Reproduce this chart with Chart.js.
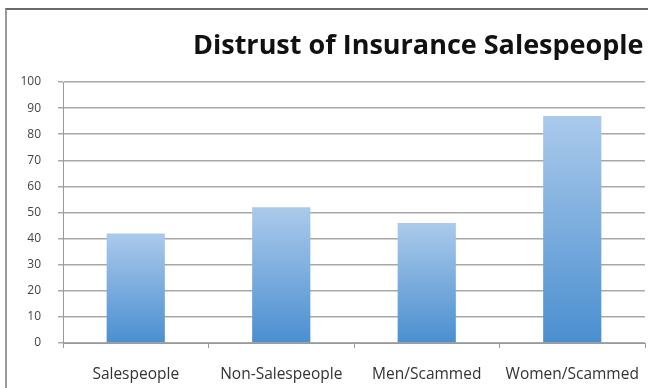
<!DOCTYPE html>
<html>
<head>
<meta charset="utf-8">
<script src="https://cdn.jsdelivr.net/npm/chart.js@4.4.1/dist/chart.umd.min.js"></script>
<style>
  html, body { margin: 0; padding: 0; background: #ffffff; overflow: hidden; }
  body { width: 648px; height: 388px; position: relative; }
  #frame {
    position: absolute; left: 5px; top: 8px; width: 700px; height: 420px;
    border-top: 2px solid #6a6a6a; border-left: 2px solid #9a9a9a;
    box-sizing: border-box;
  }
  #wrap { position: absolute; left: 0; top: 0; width: 648px; height: 388px; }
</style>
</head>
<body>
<div id="frame"></div>
<div id="wrap"><canvas id="chart" width="648" height="388"></canvas></div>
<script>
// Survey results: share of respondents who distrust insurance salespeople (%)
const chartTitle = 'Distrust of Insurance Salespeople';
const categories = ['Salespeople', 'Non-Salespeople', 'Men/Scammed', 'Women/Scammed'];
const distrustValues = [42, 52, 46, 87];
const yTicks = [0, 10, 20, 30, 40, 50, 60, 70, 80, 90, 100];

// Each bar fades from a light blue at its top to a deeper blue at the baseline
function barGradient(context) {
  const chart = context.chart;
  const { ctx, chartArea, scales } = chart;
  if (!chartArea) return '#7aaee0';
  const v = context.raw;
  const top = scales.y.getPixelForValue(v);
  const base = scales.y.getPixelForValue(0);
  const g = ctx.createLinearGradient(0, top, 0, base);
  g.addColorStop(0, '#abcaeb');
  g.addColorStop(1, '#4a8fd0');
  return g;
}

// Title drawn left-anchored so it runs off the right edge of the frame
const titlePlugin = {
  id: 'leftTitle',
  afterDraw(chart) {
    const ctx = chart.ctx;
    ctx.save();
    ctx.font = 'bold 27px "Open Sans", "DejaVu Sans", sans-serif';
    ctx.fillStyle = '#111111';
    ctx.textBaseline = 'alphabetic';
    ctx.textAlign = 'left';
    ctx.fillText(chartTitle, 193, 54);
    ctx.restore();
  }
};

new Chart(document.getElementById('chart'), {
  type: 'bar',
  data: {
    labels: categories,
    datasets: [{
      data: distrustValues,
      backgroundColor: barGradient,
      borderWidth: 0,
      categoryPercentage: 0.4,
      barPercentage: 1.0
    }]
  },
  options: {
    responsive: false,
    animation: false,
    events: [],
    layout: { padding: { top: 82, left: 0, right: 3, bottom: 0 } },
    plugins: {
      legend: { display: false },
      title: { display: false },
      tooltip: { enabled: false }
    },
    scales: {
      x: {
        offset: true,
        afterFit(scale) { scale.height = 45; },
        grid: {
          display: true,
          offset: true,
          drawOnChartArea: false,
          drawTicks: true,
          tickLength: 5,
          color: '#9a9a9a',
          lineWidth: 1
        },
        border: { display: true, color: '#9a9a9a', width: 1 },
        ticks: {
          color: '#333333',
          font: { family: '"Open Sans", "DejaVu Sans", sans-serif', size: 15.5, lineHeight: 2.97 },
          padding: 4,
          maxRotation: 0,
          autoSkip: false
        }
      },
      y: {
        min: 0,
        max: 100,
        afterFit(scale) { scale.width = 63; },
        afterBuildTicks(axis) { axis.ticks = yTicks.map(v => ({ value: v })); },
        grid: {
          color: '#a8a8a8',
          lineWidth: 1.5,
          drawTicks: true,
          tickLength: 5
        },
        border: { display: true, color: '#9a9a9a', width: 1 },
        ticks: {
          color: '#444444',
          font: { family: '"Open Sans", "DejaVu Sans", sans-serif', size: 12 },
          padding: 17
        }
      }
    }
  },
  plugins: [titlePlugin]
});
</script>
</body>
</html>
